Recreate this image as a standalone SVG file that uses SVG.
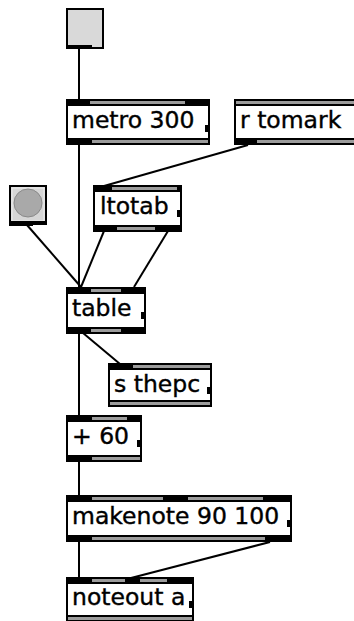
<svg xmlns="http://www.w3.org/2000/svg" width="354" height="621" viewBox="0 0 354 621">
  <style>
    .box { fill: #ffffff; stroke: #000000; stroke-width: 2; }
    .band { fill: #000000; }
    .strip { fill: #9c9c9c; }
    .notch { fill: #000000; }
    .lbl { font-family: "DejaVu Sans", "Liberation Sans", sans-serif; font-size: 23.5px; fill: #000000; stroke: #000000; stroke-width: 0.4; }
    .cord { stroke: #000000; stroke-width: 2; fill: none; }
  </style>

  <!-- patch cords -->
  <g id="connectors">
    <line class="cord" x1="79" y1="49" x2="79" y2="99"/>
    <line class="cord" x1="79" y1="145" x2="79" y2="287"/>
    <line class="cord" x1="248" y1="145" x2="104" y2="186"/>
    <line class="cord" x1="104" y1="231" x2="81" y2="287"/>
    <line class="cord" x1="168" y1="231" x2="134" y2="287"/>
    <line class="cord" x1="27" y1="225" x2="81" y2="287"/>
    <line class="cord" x1="83" y1="333" x2="120" y2="364"/>
    <line class="cord" x1="79" y1="333" x2="79" y2="415"/>
    <line class="cord" x1="79" y1="461" x2="79" y2="495"/>
    <line class="cord" x1="79" y1="541" x2="79" y2="577"/>
    <line class="cord" x1="270" y1="542" x2="131" y2="578"/>
  </g>

  <!-- toggle at the top -->
  <g id="toggle">
    <rect x="67" y="9" width="36" height="39" fill="#d9d9d9" stroke="#000" stroke-width="2"/>
    <rect class="band" x="66" y="45" width="26" height="4"/>
  </g>

  <!-- button on the left -->
  <g id="button">
    <rect x="10" y="186" width="36" height="38" fill="#d6d6d6" stroke="#000" stroke-width="2"/>
    <rect x="12" y="188" width="32" height="33" fill="none" stroke="#eeeeee" stroke-width="1"/>
    <circle cx="28" cy="203" r="14" fill="#a9a9a9" stroke="#8a8a8a" stroke-width="1"/>
    <rect class="band" x="9" y="221" width="38" height="4"/>
    <rect class="band" x="9" y="221" width="24" height="5"/>
  </g>

  <g id="metro">
    <rect class="box" x="67" y="100" width="142" height="44"/>
    <rect class="band" x="66" y="99" width="144" height="7"/>
    <rect class="strip" x="90" y="101" width="95" height="3"/>
    <rect class="band" x="66" y="138" width="144" height="7"/>
    <rect class="strip" x="92" y="140" width="116" height="3"/>
    <rect class="notch" x="205" y="125" width="3" height="7"/>
    <text class="lbl" x="72" y="128">metro 300</text>
  </g>

  <g id="r-tomark">
    <rect class="box" x="235" y="100" width="130" height="44"/>
    <rect class="band" x="234" y="99" width="132" height="7"/>
    <rect class="strip" x="236" y="101" width="130" height="3"/>
    <rect class="band" x="234" y="138" width="132" height="7"/>
    <rect class="strip" x="257" y="140" width="109" height="3"/>
    <text class="lbl" x="240" y="128">r tomark</text>
  </g>

  <g id="ltotab">
    <rect class="box" x="94" y="186" width="87" height="45"/>
    <rect class="band" x="93" y="185" width="89" height="7"/>
    <rect class="strip" x="112" y="187" width="65" height="3"/>
    <rect class="band" x="93" y="225" width="89" height="7"/>
    <rect class="strip" x="117" y="227" width="38" height="3"/>
    <rect class="notch" x="177" y="210" width="3" height="7"/>
    <text class="lbl" x="100" y="214">ltotab</text>
  </g>

  <g id="table">
    <rect class="box" x="67" y="288" width="78" height="45"/>
    <rect class="band" x="66" y="287" width="80" height="7"/>
    <rect class="strip" x="91" y="289" width="30" height="3"/>
    <rect class="band" x="66" y="327" width="80" height="7"/>
    <rect class="strip" x="91" y="329" width="30" height="3"/>
    <rect class="notch" x="141" y="312" width="3" height="7"/>
    <text class="lbl" x="72" y="316">table</text>
  </g>

  <g id="s-thepc">
    <rect class="box" x="109" y="364" width="102" height="42"/>
    <rect class="band" x="108" y="363" width="104" height="7"/>
    <rect class="strip" x="133" y="365" width="77" height="3"/>
    <rect class="band" x="108" y="400" width="104" height="7"/>
    <rect class="strip" x="110" y="402" width="100" height="3"/>
    <rect class="notch" x="207" y="387" width="3" height="7"/>
    <text class="lbl" x="114" y="392">s thepc</text>
  </g>

  <g id="plus-60">
    <rect class="box" x="67" y="416" width="74" height="45"/>
    <rect class="band" x="66" y="415" width="76" height="7"/>
    <rect class="strip" x="92" y="417" width="35" height="3"/>
    <rect class="band" x="66" y="455" width="76" height="7"/>
    <rect class="strip" x="92" y="457" width="48" height="3"/>
    <rect class="notch" x="137" y="440" width="3" height="7"/>
    <text class="lbl" x="72" y="444">+ 60</text>
  </g>

  <g id="makenote">
    <rect class="box" x="67" y="496" width="224" height="45"/>
    <rect class="band" x="66" y="495" width="226" height="7"/>
    <rect class="strip" x="92" y="497" width="71" height="3"/>
    <rect class="strip" x="188" y="497" width="75" height="3"/>
    <rect class="band" x="66" y="535" width="226" height="7"/>
    <rect class="strip" x="92" y="537" width="173" height="3"/>
    <rect class="notch" x="287" y="520" width="3" height="7"/>
    <text class="lbl" x="72" y="524">makenote 90 100</text>
  </g>

  <g id="noteout">
    <rect class="box" x="67" y="578" width="126" height="44"/>
    <rect class="band" x="66" y="577" width="128" height="7"/>
    <rect class="strip" x="92" y="579" width="33" height="3"/>
    <rect class="strip" x="140" y="579" width="27" height="3"/>
    <rect class="band" x="66" y="615" width="128" height="7"/>
    <rect class="strip" x="68" y="617" width="124" height="3"/>
    <rect class="notch" x="189" y="601" width="3" height="7"/>
    <text class="lbl" x="72" y="605">noteout a</text>
  </g>
</svg>
